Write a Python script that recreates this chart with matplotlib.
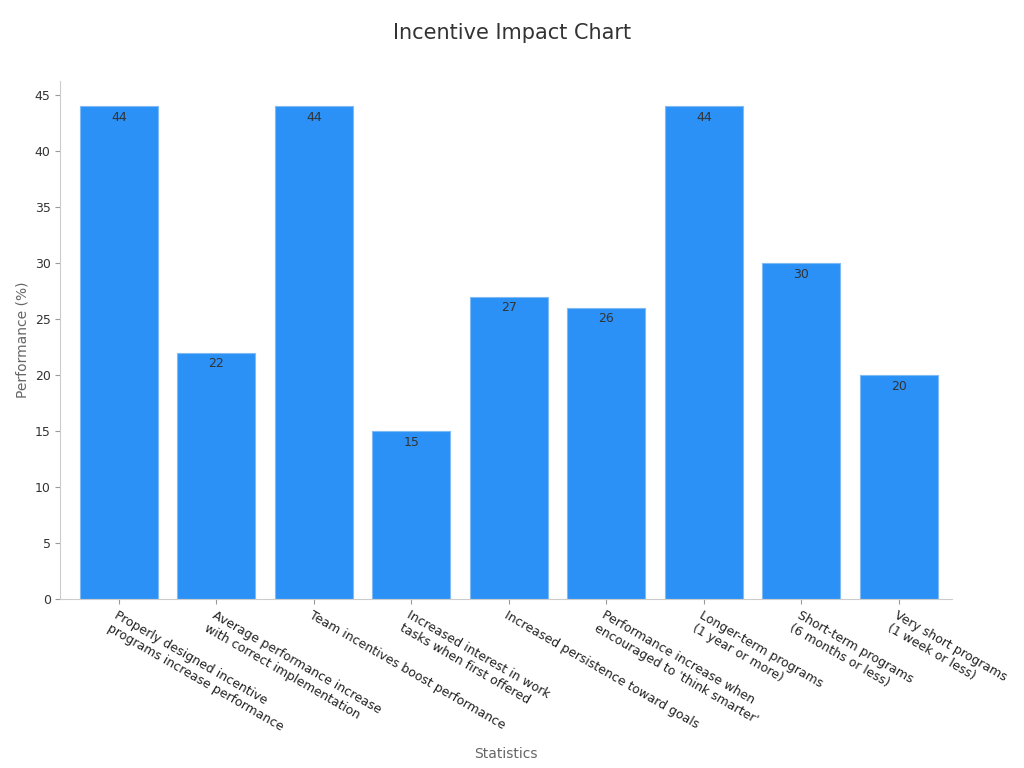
import matplotlib
matplotlib.use("Agg")
import matplotlib.pyplot as plt

categories = [
    "Properly designed incentive\nprograms increase performance",
    "Average performance increase\nwith correct implementation",
    "Team incentives boost performance",
    "Increased interest in work\ntasks when first offered",
    "Increased persistence toward goals",
    "Performance increase when\nencouraged to 'think smarter'",
    "Longer-term programs\n(1 year or more)",
    "Short-term programs\n(6 months or less)",
    "Very short programs\n(1 week or less)",
]
values = [44, 22, 44, 15, 27, 26, 44, 30, 20]

fig = plt.figure(figsize=(10.24, 7.68), dpi=100)
ax = fig.add_axes([0.059, 0.22, 0.871, 0.675])

x = range(len(values))
bars = ax.bar(x, values, width=0.8, color="#2b91f7", edgecolor="#7fbaf5", linewidth=0.8)
for xi, v in zip(x, values):
    ax.text(xi, v - 0.4, str(v), ha="center", va="top", fontsize=9, color="#333333")

ax.set_xlim(-0.6, 8.55)
ax.set_ylim(0, 46.3)
ax.set_yticks(range(0, 46, 5))
ax.set_xticks(list(x))
ax.set_xticklabels(categories, rotation=-30, ha="left", rotation_mode="anchor", fontsize=9, color="#222222")
ax.tick_params(axis="y", labelsize=9, colors="#333333")
ax.tick_params(axis="both", color="#999999")
for s in ["top", "right"]:
    ax.spines[s].set_visible(False)
for s in ["left", "bottom"]:
    ax.spines[s].set_color("#cccccc")

ax.set_ylabel("Performance (%)", fontsize=10, color="#666666")
ax.set_xlabel("Statistics", fontsize=10, color="#666666", labelpad=10)
fig.suptitle("Incentive Impact Chart", fontsize=15, color="#333333", y=0.97)

fig.savefig("out.png", dpi=100)
